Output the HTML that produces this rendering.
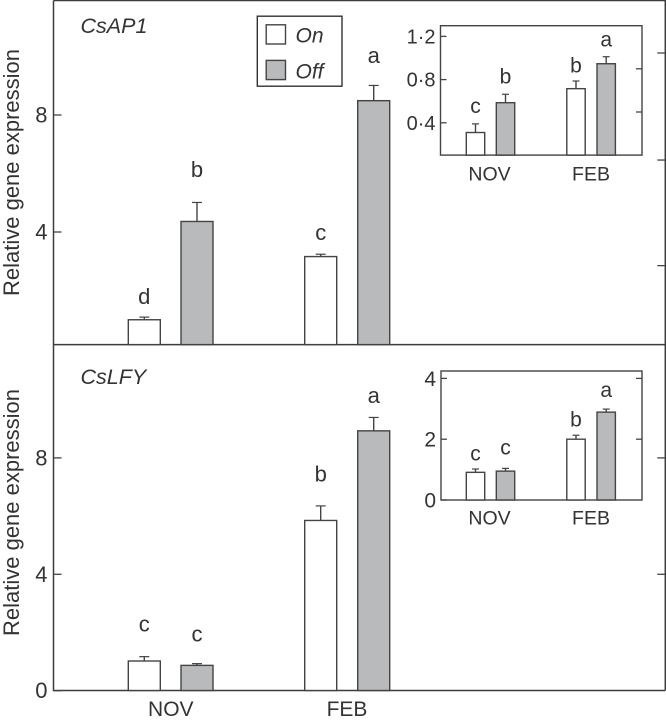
<!DOCTYPE html>
<html>
<head>
<meta charset="utf-8">
<title>Relative gene expression</title>
<style>
html,body{margin:0;padding:0;background:#fff;}
svg{display:block;}
text{font-family:"Liberation Sans",sans-serif;fill:#333;}
</style>
</head>
<body>
<svg id="chart" width="666" height="721" viewBox="0 0 666 721" xmlns="http://www.w3.org/2000/svg"></svg>
<script>
// Top main panel (CsAP1)
const apValues = [1.0, 4.36, 3.16, 8.49];
const apErrors = [1.09, 5.01, 3.24, 9.01];
const apLetters = ['d', 'b', 'c', 'a'];
const apTicks = [4, 8];
const apTickLabels = ['4', '8'];
const apRightTicks = [2.85, 6.46, 10.12];
// Top inset (CsAP1)
const apInsetValues = [0.31, 0.586, 0.716, 0.947];
const apInsetErrors = [0.39, 0.664, 0.787, 1.012];
const apInsetLetters = ['c', 'b', 'b', 'a'];
const apInsetTicks = [0.4, 0.8, 1.2];
const apInsetTickLabels = ['0·4', '0·8', '1·2'];
const apInsetRightTicks = [0.5, 0.9];
// Bottom main panel (CsLFY)
const lfyValues = [1.02, 0.87, 5.85, 8.93];
const lfyErrors = [1.17, 0.93, 6.35, 9.39];
const lfyLetters = ['c', 'c', 'b', 'a'];
const lfyTicks = [0, 4, 8];
const lfyTickLabels = ['0', '4', '8'];
const lfyRightTicks = [4, 8];
// Bottom inset (CsLFY)
const lfyInsetValues = [0.91, 0.95, 2.0, 2.89];
const lfyInsetErrors = [1.02, 1.04, 2.13, 2.99];
const lfyInsetLetters = ['c', 'c', 'b', 'a'];
const lfyInsetTicks = [0, 2, 4];
const lfyInsetTickLabels = ['0', '2', '4'];
const lfyInsetRightTicks = [2, 4];
// Shared categories
const months = ['NOV', 'FEB'];
const seriesNames = ['On', 'Off'];

const svg = document.getElementById('chart');
const NS = 'http://www.w3.org/2000/svg';
const INK = '#444';
const GREY = '#b9babc';

function make(tag, attrs, parent) {
  const el = document.createElementNS(NS, tag);
  for (const k in attrs) el.setAttribute(k, attrs[k]);
  (parent || svg).appendChild(el);
  return el;
}
function label(str, x, y, size, parent, extra) {
  const el = make('text', Object.assign({x: x, y: y, 'font-size': size, 'text-anchor': 'middle'}, extra || {}), parent);
  el.textContent = str;
  return el;
}

function drawBars(cfg) {
  const y = v => cfg.y0 - v * cfg.scale;
  cfg.values.forEach((v, i) => {
    const g = make('g', {});
    
    
    const cx = cfg.x[i] + cfg.w / 2;
    make('line', {x1: cx, x2: cx, y1: y(cfg.errors[i]), y2: y(v), stroke: INK, 'stroke-width': 1.4}, g);
    make('line', {x1: cx - cfg.cap, x2: cx + cfg.cap, y1: y(cfg.errors[i]), y2: y(cfg.errors[i]), stroke: INK, 'stroke-width': 1.2}, g);
    make('rect', {x: cfg.x[i], y: y(v), width: cfg.w, height: cfg.base - y(v), fill: i % 2 ? GREY : '#fff', stroke: INK, 'stroke-width': 1.4}, g);
    const t = label(cfg.letters[i], cx + (cfg.letterDx || 0), y(cfg.errors[i]) - cfg.letterGaps[i], cfg.letterSize, svg);
    
    
  });
}
function drawTicks(cfg) {
  const y = v => cfg.y0 - v * cfg.scale;
  cfg.ticks.forEach((v, i) => {
    const tk = make('line', {x1: cfg.left, x2: cfg.left + cfg.tickLen, y1: y(v), y2: y(v), stroke: INK, 'stroke-width': 1.3});
    
    
    const t = label(cfg.tickLabels[i], cfg.left - cfg.labelGap, y(v) + cfg.labelDy, cfg.labelSize, svg, {'text-anchor': 'end'});
    
    
  });
  cfg.rightTicks.forEach(v => {
    const tk = make('line', {x1: cfg.right - cfg.tickLen, x2: cfg.right, y1: y(v), y2: y(v), stroke: INK, 'stroke-width': 1.3});
    
    
  });
}

// Frames
const outer = make('path', {d: 'M53.5 0.5H665.3V690.5M53.5 0.5V690.5H665.3M53.5 344.6H665.3', fill: 'none', stroke: '#3c3c3c', 'stroke-width': 1.5});



const mainX = [128.3, 181, 304.7, 357.7];
const insetX = [466.3, 496.3, 566.8, 597];

drawTicks({prefix: 'csap1', y0: 349, scale: 29.25, ticks: apTicks, tickLabels: apTickLabels, rightTicks: apRightTicks, left: 53.5, right: 665.3, tickLen: 8, labelGap: 6, labelDy: 7.5, labelSize: 22});
drawBars({prefix: 'csap1', y0: 349, scale: 29.25, base: 344.6, x: mainX, w: 32, cap: 5, values: apValues, errors: apErrors, letters: apLetters, letterGaps: [13, 25.6, 14.3, 22.6], letterSize: 22});

drawTicks({prefix: 'cslfy', y0: 690.7, scale: 29.1, ticks: lfyTicks, tickLabels: lfyTickLabels, rightTicks: lfyRightTicks, left: 53.5, right: 665.3, tickLen: 8, labelGap: 6, labelDy: 7.5, labelSize: 22});
drawBars({prefix: 'cslfy', y0: 690.7, scale: 29.1, base: 690.5, x: mainX, w: 32, cap: 5, values: lfyValues, errors: lfyErrors, letters: lfyLetters, letterGaps: [25, 22, 24.3, 14.6], letterSize: 22});

// Insets
const inset1 = make('rect', {x: 440.5, y: 25.7, width: 201.5, height: 129.4, fill: '#fff', stroke: INK, 'stroke-width': 1.4});


drawTicks({prefix: 'csap1-inset', y0: 166, scale: 108, ticks: apInsetTicks, tickLabels: apInsetTickLabels, rightTicks: apInsetRightTicks, left: 440.5, right: 642, tickLen: 6, labelGap: 5, labelDy: 7, labelSize: 20});
drawBars({prefix: 'csap1-inset', y0: 166, scale: 108, base: 155.1, x: insetX, w: 18.4, cap: 3.5, values: apInsetValues, errors: apInsetErrors, letters: apInsetLetters, letterGaps: [10.7, 11, 8.3, 10], letterSize: 21});

const inset2 = make('rect', {x: 441, y: 371, width: 201, height: 129, fill: '#fff', stroke: INK, 'stroke-width': 1.4});


drawTicks({prefix: 'cslfy-inset', y0: 500, scale: 30.4, ticks: lfyInsetTicks, tickLabels: lfyInsetTickLabels, rightTicks: lfyInsetRightTicks, left: 441, right: 642, tickLen: 6, labelGap: 5, labelDy: 7.5, labelSize: 21});
drawBars({prefix: 'cslfy-inset', y0: 500, scale: 30.4, base: 500, x: insetX, w: 18.4, cap: 3.5, values: lfyInsetValues, errors: lfyInsetErrors, letters: lfyInsetLetters, letterGaps: [8.3, 14, 8.6, 12.3], letterSize: 21});

// Category labels
[[170.8, 716, 21], [347, 716, 21], [489.5, 180.7, 19.5], [591, 180.7, 19.5], [489.5, 524.3, 19.5], [591, 524.3, 19.5]].forEach((p, i) => {
  const t = label(months[i % 2], p[0], p[1], p[2], svg);
  
  
});

// Axis titles
[[19, 172.5], [19, 512.5]].forEach(p => {
  const t = label('Relative gene expression', p[0], p[1], 22, svg, {transform: 'rotate(-90 ' + p[0] + ' ' + p[1] + ')'});
  
  
});

// Panel titles
const ttl1 = label('CsAP1', 80.5, 33, 21.5, svg, {'text-anchor': 'start', 'font-style': 'italic'});


const ttl2 = label('CsLFY', 80.5, 384, 21.5, svg, {'text-anchor': 'start', 'font-style': 'italic'});



// Legend
const legend = make('g', {});


make('rect', {x: 257.3, y: 16.2, width: 84.7, height: 70, fill: '#fff', stroke: '#333', 'stroke-width': 1.4}, legend);
seriesNames.forEach((n, i) => {
  const entry = make('g', {}, legend);
  
  
  make('rect', {x: 266.2, y: 24.8 + i * 35.6, width: 19.3, height: 19.2, fill: i ? GREY : '#fff', stroke: INK, 'stroke-width': 1.4}, entry);
  label(n, 295.5, 42.7 + i * 35.6, 21, entry, {'text-anchor': 'start', 'font-style': 'italic'});
});
</script>
</body>
</html>
